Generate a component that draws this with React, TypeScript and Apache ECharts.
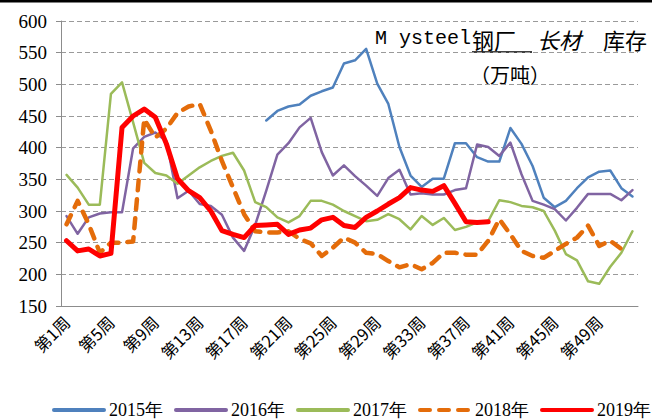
import React, { useEffect, useRef } from "react";
import * as echarts from "echarts";

const weeks: string[] = Array.from({ length: 52 }, (_, i) => `第${i + 1}周`);

const yTicks = { min: 150, max: 600, interval: 50 };

const s2015: (number | null)[] = [
  null, null, null, null, null, null, null, null, null, null,
  null, null, null, null, null, null, null, null, 443, 458,
  465, 468, 482, 489, 495, 533, 538, 556, 501, 469,
  401, 356, 338, 351, 351, 407, 407, 385, 378, 378,
  431, 406, 371, 321, 306, 316, 336, 353, 362, 364,
  336, 323,
];

const s2016: (number | null)[] = [
  292, 264, 290, 296, 298, 298, 399, 417, 424, 410,
  320, 332, 311, 308, 294, 258, 237, 278, 332, 389,
  407, 432, 447, 393, 356, 372, 355, 340, 324, 352,
  365, 326, 328, 326, 326, 333, 336, 405, 401, 387,
  408, 358, 316, 310, 303, 285, 305, 327, 327, 327,
  317, 333,
];

const s2017: (number | null)[] = [
  357, 337, 310, 310, 485, 503, 440, 376, 360, 356,
  343, 356, 369, 379, 387, 392, 364, 314, 306, 290,
  282, 292, 316, 316, 310, 300, 292, 284, 286, 295,
  287, 271, 292, 278, 289, 270, 275, 282, 284, 317,
  314, 308, 306, 300, 269, 232, 222, 189, 185, 212,
  234, 268,
];

const s2018: (number | null)[] = [
  279, 316, 279, 234, 250, 250, 252, 445, 416, 430,
  455, 465, 469, 427, 379, 337, 295, 268, 266, 266,
  268, 256, 249, 229, 242, 258, 250, 234, 232, 221,
  211, 216, 208, 218, 234, 234, 231, 231, 253, 287,
  263, 237, 229, 226, 237, 248, 258, 277, 245, 253,
  240, null,
];

const s2019: (number | null)[] = [
  253, 237, 240, 229, 233, 432, 450, 461, 448, 406,
  351, 332, 321, 300, 269, 263, 258, 277, 278, 279,
  263, 270, 273, 286, 290, 277, 274, 290, 300, 311,
  321, 337, 333, 331, 340, 312, 283, 282, 283, null,
  null, null, null, null, null, null, null, null, null, null,
  null, null,
];

const seriesNames = ["2015年", "2016年", "2017年", "2018年", "2019年"];

export default function App() {
  const ref = useRef<HTMLDivElement>(null);

  useEffect(() => {
    if (!ref.current) return;
    const chart = echarts.init(ref.current, undefined, { renderer: "svg" });
    const lineSeries = (
      name: string,
      data: (number | null)[],
      color: string,
      width: number,
      type: any = "solid"
    ) => ({
      name,
      type: "line",
      data,
      symbol: "none",
      smooth: false,
      connectNulls: false,
      lineStyle: { color, width, type, cap: "round", join: "round" },
      itemStyle: { color },
    });

    chart.setOption({
      animation: false,
      backgroundColor: "#ffffff",
      grid: { left: 61, right: 14, top: 21, bottom: 113, containLabel: false },
      legend: {
        data: seriesNames,
        left: 52,
        top: 399,
        width: 600,
        padding: 0,
        itemWidth: 50,
        itemHeight: 14,
        itemGap: 11,
        itemStyle: { opacity: 0 },
        lineStyle: { width: 4 },
        textStyle: {
          fontFamily: "Liberation Serif",
          fontSize: 18,
          lineHeight: 22,
          color: "#000",
        },
      },
      xAxis: {
        type: "category",
        data: weeks,
        boundaryGap: true,
        axisLine: { lineStyle: { color: "#8c8c8c", width: 1 } },
        axisTick: { interval: 0, length: 4, lineStyle: { color: "#8c8c8c" } },
        axisLabel: {
          interval: 3,
          rotate: 45,
          margin: 13,
          fontSize: 16.5,
          fontFamily: "Noto Sans CJK SC",
          color: "#000",
        },
        splitLine: { show: false },
      },
      yAxis: {
        type: "value",
        min: yTicks.min,
        max: yTicks.max,
        interval: yTicks.interval,
        axisLine: { show: true, lineStyle: { color: "#8c8c8c", width: 1 } },
        axisTick: { show: true, length: 5, lineStyle: { color: "#8c8c8c" } },
        axisLabel: {
          fontSize: 19,
          fontFamily: "Liberation Serif",
          color: "#000",
          margin: 14,
        },
        splitLine: {
          show: true,
          lineStyle: { color: "#9a9a9a", width: 1, type: [5, 3] },
        },
      },
      graphic: [
        { type: "rect", shape: { x: 0, y: 0, width: 652, height: 2.5 }, style: { fill: "#000" } },
        {
          type: "text",
          x: 375,
          y: 38,
          style: { text: "M ysteel", font: '20px "Liberation Mono", monospace', fill: "#000", verticalAlign: "middle" },
        },
        {
          type: "text",
          x: 472,
          y: 39,
          style: { text: "钢厂", font: '22px "Noto Sans CJK SC"', fill: "#000", verticalAlign: "middle" },
        },
        { type: "line", shape: { x1: 472, y1: 52, x2: 532, y2: 52 }, style: { stroke: "#000", lineWidth: 1.5 } },
        {
          type: "text",
          x: 537,
          y: 39,
          style: { text: "长材", font: 'italic 22px "Noto Sans CJK SC"', fill: "#000", verticalAlign: "middle" },
        },
        {
          type: "text",
          x: 603,
          y: 39,
          style: { text: "库存", font: '22px "Noto Sans CJK SC"', fill: "#000", verticalAlign: "middle" },
        },
        {
          type: "text",
          x: 470,
          y: 74,
          style: { text: "（万吨）", font: '20px "Noto Sans CJK SC"', fill: "#000", verticalAlign: "middle" },
        },
      ],
      series: [
        lineSeries(seriesNames[0], s2015, "#4f81bd", 2.5),
        lineSeries(seriesNames[1], s2016, "#8064a2", 2.5),
        lineSeries(seriesNames[2], s2017, "#9bbb59", 2.5),
        lineSeries(seriesNames[3], s2018, "#e46c0a", 4.5, [10, 9]),
        lineSeries(seriesNames[4], s2019, "#ff0000", 5),
      ],
    });
    return () => chart.dispose();
  }, []);

  return (
    <div
      ref={ref}
      style={{ position: "fixed", left: 0, top: 0, width: 652, height: 419, background: "#fff" }}
    />
  );
}
